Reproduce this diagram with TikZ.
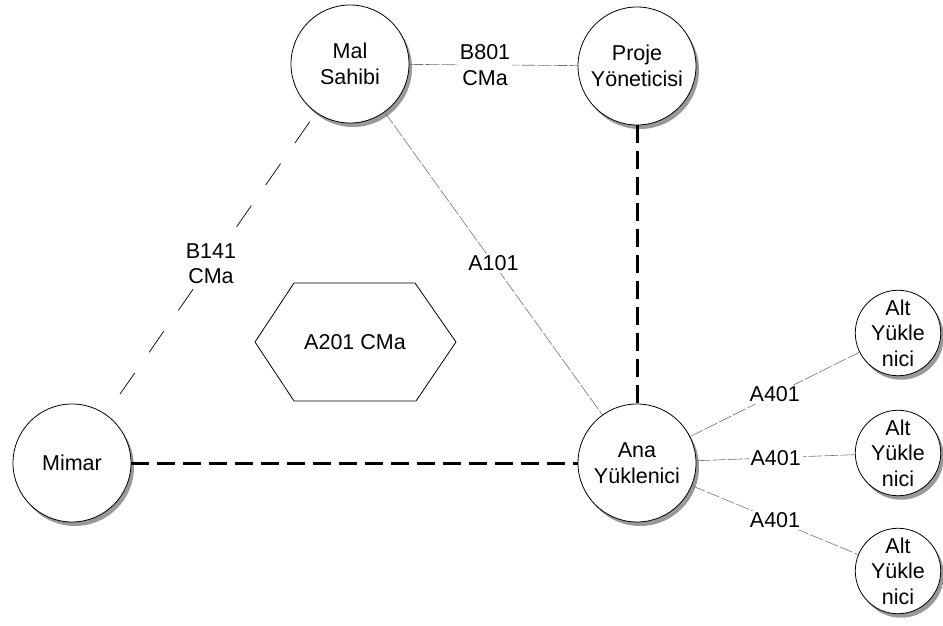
\documentclass[tikz,border=0pt]{standalone}
\usepackage{fontspec}
\setmainfont{Liberation Sans}
\usetikzlibrary{shadows}
\begin{document}
\begin{tikzpicture}[x=1pt,y=-1pt,
  every node/.style={font=\fontsize{21.5}{25.5}\selectfont, align=center},
  circ/.style={circle, draw, line width=0.8pt, fill=white, inner sep=0pt,
    drop shadow={shadow xshift=3pt, shadow yshift=-4pt, fill=black!40, opacity=1}},
  bigc/.style={circ, minimum size=118pt},
  smallc/.style={circ, minimum size=80pt},
  thinline/.style={draw=black!55, line width=0.6pt, dash pattern=on 14pt off 2pt},
  longdash/.style={draw=black, line width=0.7pt, dash pattern=on 26pt off 25pt, dash phase=40pt},
  thickdash/.style={draw=black, line width=3pt, dash pattern=on 18pt off 8pt},
  lbl/.style={fill=white, inner sep=2pt}
]
\useasboundingbox (0,0) rectangle (943,626);

% hexagon
\draw[line width=0.8pt] (255,342) -- (294,283) -- (415,283) -- (456,342) -- (416,401) -- (294,401) -- cycle;
\node (hex) at (355,342) {A201 CMa};

% nodes
\node[bigc] (mal) at (350,64) {Mal\\Sahibi};
\node[bigc] (proj) at (637,66) {Proje\\Yöneticisi};
\node[bigc] (mimar) at (72,463) {Mimar};
\node[bigc] (ana) at (637,463) {Ana\\Yüklenici};
\node[smallc] (alt1) at (898,333) {Alt\\Yükle\\nici};
\node[smallc] (alt2) at (898,453) {Alt\\Yükle\\nici};
\node[smallc] (alt3) at (898,571) {Alt\\Yükle\\nici};

% connectors
\draw[thinline] (mal) -- node[lbl, pos=0.45] (b801) {B801\\CMa} (proj);
\draw[longdash] (mal) -- node[lbl] (b141) {B141\\CMa} (mimar);
\draw[thinline] (mal) -- node[lbl] (a101) {A101} (ana);
\draw[thickdash] (proj) -- (ana);
\draw[thickdash] (mimar) -- (ana);
\draw[thinline] (ana) -- node[lbl] (a4a) {A401} (alt1);
\draw[thinline] (ana) -- node[lbl] (a4b) {A401} (alt2);
\draw[thinline] (ana) -- node[lbl] (a4c) {A401} (alt3);
\end{tikzpicture}
\end{document}
